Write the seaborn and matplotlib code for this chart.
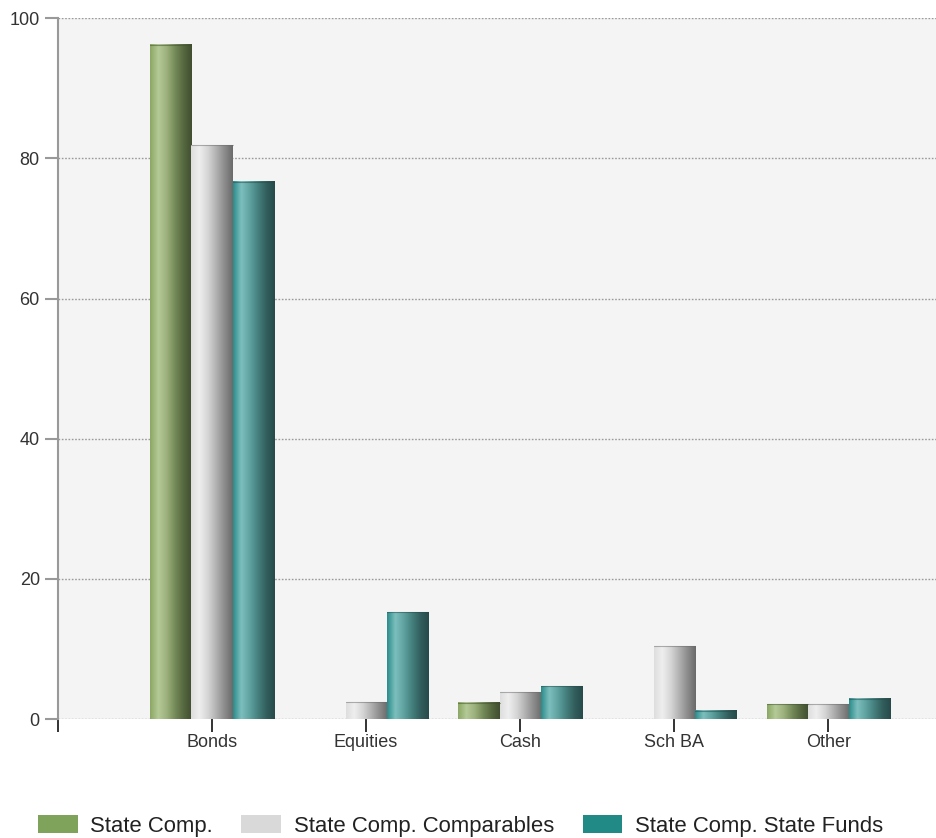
import numpy as np
import pandas as pd
import matplotlib
matplotlib.use("Agg")
import matplotlib.pyplot as plt
import seaborn as sns
from matplotlib.colors import LinearSegmentedColormap
from matplotlib.patches import Patch

categories = ["Bonds", "Equities", "Cash", "Sch BA", "Other"]
series_names = ["State Comp.", "State Comp. Comparables", "State Comp. State Funds"]
state_comp = [96.2, 0, 2.3, 0, 2.1]
comparables = [81.9, 2.4, 3.8, 10.4, 2.1]
state_funds = [76.7, 15.2, 4.7, 1.2, 2.9]
y_ticks = [0, 20, 40, 60, 80, 100]

legend_colors = ["#7fa35a", "#d9d9d9", "#218a86"]
gradients = [
    ["#8aa762", "#b4ca97", "#9cb17c", "#748a58", "#56683f", "#404e30"],
    ["#dedede", "#eeeeee", "#d6d6d6", "#b2b2b2", "#8c8c8c", "#6a6a6a"],
    ["#2b8c8a", "#7dbfbe", "#5fa2a0", "#44807e", "#325e5d", "#264a4a"],
]

rows = []
for s, vals in zip(series_names, [state_comp, comparables, state_funds]):
    for c, v in zip(categories, vals):
        rows.append({"Category": c, "Series": s, "Value": v})
df = pd.DataFrame(rows)

sns.set_style("white")
plt.rcParams["font.family"] = ["Liberation Sans", "DejaVu Sans"]

fig = plt.figure(figsize=(9.36, 8.38), dpi=100)
ax = fig.add_axes([58 / 936, 119 / 838, 1 - 58 / 936, 700.7 / 838])
ax.set_facecolor("#f4f4f4")

sns.barplot(data=df, x="Category", y="Value", hue="Series", order=categories,
            hue_order=series_names, palette=legend_colors, saturation=1,
            legend=False, ax=ax, width=0.8, zorder=2)

grad = np.linspace(0, 1, 256).reshape(1, -1)
for i, cont in enumerate(ax.containers):
    cmap = LinearSegmentedColormap.from_list(f"g{i}", gradients[i])
    for p in cont.patches:
        h = p.get_height()
        p.set_facecolor("none")
        p.set_edgecolor("none")
        if h <= 0:
            continue
        x0 = p.get_x()
        w = p.get_width()
        ax.imshow(grad, extent=[x0, x0 + w, 0, h], aspect="auto", cmap=cmap,
                  interpolation="bilinear", zorder=2)
        ax.plot([x0, x0 + w], [h, h], color=gradients[i][-1], lw=0.8, alpha=0.5, zorder=3)

ax.set_xlim(-1, 4.7)
ax.set_ylim(0, 100)
ax.set_yticks(y_ticks)
ax.set_yticklabels([str(t) for t in y_ticks])
ax.set_xticks([-1, 0, 1, 2, 3, 4])
ax.set_xticklabels([""] + categories)
ax.set_xlabel("")
ax.set_ylabel("")

ax.set_axisbelow(True)
for t in y_ticks:
    ax.axhline(t, color="#9a9a9a", lw=1.0, linestyle=(0, (1.2, 1.2)), zorder=1)

for s in ["top", "right", "bottom"]:
    ax.spines[s].set_visible(False)
ax.spines["left"].set_color("#999999")
ax.spines["left"].set_linewidth(1.5)

ax.tick_params(axis="y", length=9.5, width=1.5, color="#999999", pad=3.6,
               labelsize=13, labelcolor="#333333", left=True)
ax.tick_params(axis="x", length=9, width=1.2, color="#111111", pad=1.5,
               labelsize=13, labelcolor="#333333", bottom=True)

handles = [Patch(facecolor=c, edgecolor="none") for c in legend_colors]
fig.legend(handles, series_names, loc="center left",
           bbox_to_anchor=(38 / 936, (838 - 826) / 838), ncol=3, frameon=False,
           fontsize=15.9, handlelength=1.81, handleheight=0.82,
           handletextpad=0.55, columnspacing=1.3, borderpad=0, borderaxespad=0,
           labelcolor="#222222")

fig.savefig("out.png", dpi=100)
